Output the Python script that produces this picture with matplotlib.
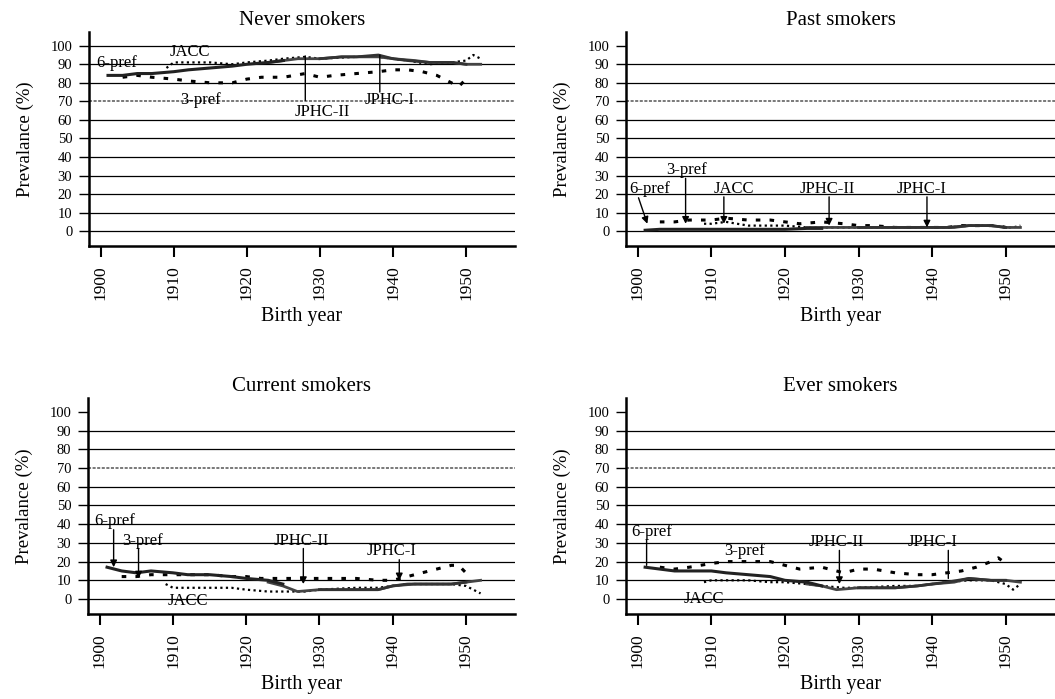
import numpy as np
import matplotlib
matplotlib.use("Agg")
import matplotlib.pyplot as plt

plt.rcParams['font.family'] = ['Liberation Serif', 'DejaVu Serif']

# birth years sampled for each cohort
yrs_6pref = [1901, 1903, 1905, 1907, 1910, 1912, 1915, 1918, 1920, 1923, 1925]
yrs_3pref = [1903, 1905, 1907, 1910, 1912, 1915, 1918, 1920, 1922, 1925, 1928,
             1930, 1932, 1935, 1938, 1940, 1942, 1944, 1946, 1948, 1949, 1950]
yrs_jacc = [1909, 1910, 1912, 1915, 1918, 1920, 1923, 1925, 1928, 1930, 1935,
            1938, 1940, 1942, 1945, 1948, 1950, 1951, 1952]
yrs_jphc2 = [1923, 1925, 1927, 1930, 1933, 1935, 1938, 1940, 1943, 1945, 1948, 1950, 1952]
yrs_jphc1 = [1930, 1933, 1935, 1938, 1940, 1942, 1945, 1948, 1950]

# never smokers
never_6pref = [84, 84, 85, 85, 86, 87, 88, 89, 90, 91, 92]
never_3pref = [83, 84, 83, 82, 81, 80, 80, 82, 83, 83, 85, 83, 84, 85, 86, 87, 87, 86, 84, 80, 78, 82]
never_jacc = [88, 91, 91, 91, 90, 91, 92, 93, 94, 93, 94, 94, 93, 92, 90, 91, 92, 95, 93]
never_jphc2 = [91, 92, 93, 93, 94, 94, 94, 93, 92, 91, 91, 90, 90]
never_jphc1 = [93, 94, 94, 95, 93, 92, 91, 91, 90]

# past smokers
past_6pref = [0.5, 1, 1, 1, 1, 1, 1, 1, 1, 1.5, 1.5]
past_3pref = [5, 5, 6, 6, 7, 6, 6, 5, 4, 5, 4, 3, 3, 2, 2, 2, 2, 3, 3, 3, 3, 2]
past_jacc = [4, 4, 5, 3, 3, 3, 2, 2, 2, 2, 2, 2, 2, 2, 3, 3, 2, 2, 3]
past_jphc2 = [2, 2, 2, 2, 2, 2, 2, 2, 2, 3, 3, 2, 2]
past_jphc1 = [2, 2, 2, 2, 2, 2, 3, 3, 2]

# current smokers
cur_6pref = [17, 15, 14, 15, 14, 13, 13, 12, 11, 10, 8]
cur_3pref = [12, 12, 13, 13, 13, 13, 12, 12, 11, 11, 11, 11, 11, 11, 10, 10, 12, 14, 16, 18, 18, 14]
cur_jacc = [8, 6, 6, 6, 6, 5, 4, 4, 4, 5, 6, 6, 7, 8, 8, 8, 7, 5, 3]
cur_jphc2 = [9, 7, 4, 5, 5, 5, 5, 7, 8, 8, 8, 9, 10]
cur_jphc1 = [5, 5, 5, 5, 7, 8, 8, 8, 9]

# ever smokers
ever_6pref = [17, 16, 15, 15, 15, 14, 13, 12, 10, 9, 7]
ever_3pref = [17, 16, 17, 19, 20, 20, 20, 18, 16, 17, 14, 16, 16, 14, 13, 13, 14, 15, 17, 20, 22, 19]
ever_jacc = [9, 10, 10, 10, 9, 9, 8, 7, 6, 6, 7, 7, 8, 9, 10, 10, 8, 5, 8]
ever_jphc2 = [8, 7, 5, 6, 6, 6, 7, 8, 9, 11, 10, 10, 9]
ever_jphc1 = [6, 6, 6, 7, 8, 9, 11, 10, 10]

titles = ["Never smokers", "Past smokers", "Current smokers", "Ever smokers"]
panels = [
    (never_6pref, never_3pref, never_jacc, never_jphc2, never_jphc1),
    (past_6pref, past_3pref, past_jacc, past_jphc2, past_jphc1),
    (cur_6pref, cur_3pref, cur_jacc, cur_jphc2, cur_jphc1),
    (ever_6pref, ever_3pref, ever_jacc, ever_jphc2, ever_jphc1),
]

# label, text centre, pointer line (from, to, arrow head)
notes = [
    [("JACC", (1912.2, 96.4), None),
     ("6-pref", (1902.2, 90.5), None),
     ("3-pref", (1913.6, 70.5), None),
     ("JPHC-II", (1930.3, 64), ((1928, 70.5), (1928, 94.5), False)),
     ("JPHC-I", (1939.6, 70.5), ((1938.2, 75), (1938.2, 95), False))],
    [("6-pref", (1901.6, 22.7), ((1900.1, 18), (1901.3, 4), True)),
     ("3-pref", (1906.6, 33), ((1906.5, 28.5), (1906.5, 4), True)),
     ("JACC", (1913, 23), ((1911.7, 18.5), (1911.7, 4), True)),
     ("JPHC-II", (1925.8, 23), ((1926, 18.5), (1926, 3), True)),
     ("JPHC-I", (1938.6, 23), ((1939.3, 18.5), (1939.3, 2), True))],
    [("6-pref", (1902, 41.5), ((1901.9, 37), (1901.9, 17), True)),
     ("3-pref", (1905.9, 31), ((1905.3, 27), (1905.3, 11), True)),
     ("JACC", (1912, -1), None),
     ("JPHC-II", (1927.5, 31), ((1927.8, 27), (1927.8, 8), True)),
     ("JPHC-I", (1939.8, 25.5), ((1940.9, 21), (1940.9, 10), True))],
    [("6-pref", (1901.9, 35.7), ((1901.2, 31.5), (1901.2, 18), False)),
     ("3-pref", (1914.5, 25.5), None),
     ("JACC", (1909, 0), None),
     ("JPHC-II", (1927, 30.3), ((1927.4, 26), (1927.4, 8), True)),
     ("JPHC-I", (1940, 30.3), ((1942.2, 26), (1942.2, 11), False))],
]

fig = plt.figure(figsize=(10.55, 6.99), dpi=100)
boxes = [(89, 32, 515, 246), (626, 32, 1055, 246),
         (88, 398, 515, 614), (626, 398, 1055, 614)]

for i, (x0, y0, x1, y1) in enumerate(boxes):
    ax = fig.add_axes([x0 / 1055, 1 - y1 / 699, (x1 - x0) / 1055, (y1 - y0) / 699])
    ax.set_xlim(1898.4, 1956.7)
    ax.set_ylim(-8, 107.4)
    grid_top = 100 if i == 0 else 90
    for g in range(0, grid_top + 1, 10):
        if g == 70:
            ax.axhline(g, color='#555555', lw=1.1, ls=(0, (2, 1)), zorder=1)
        else:
            ax.axhline(g, color='black', lw=0.9, zorder=1)

    s6, s3, sj, s2, s1 = panels[i]
    ax.plot(yrs_jacc, sj, color='black', lw=1.6, ls=(0, (1, 1.5)), zorder=3)
    ax.plot(yrs_3pref, s3, color='black', lw=2.2, ls=(0, (1.5, 3)), zorder=3)
    ax.plot(yrs_jphc2, s2, color='#444444', lw=2.0, zorder=3)
    ax.plot(yrs_jphc1, s1, color='#333333', lw=2.0, zorder=3)
    ax.plot(yrs_6pref, s6, color='#222222', lw=2.2, zorder=3)

    for lab, tp, seg in notes[i]:
        ax.text(tp[0], tp[1], lab, ha='center', va='center', fontsize=12, zorder=5)
        if seg is not None:
            start, end, head = seg
            ax.annotate("", xy=end, xytext=start,
                        arrowprops=dict(arrowstyle='-|>' if head else '-', color='black', lw=1,
                                        mutation_scale=10, shrinkA=0, shrinkB=0), zorder=4)

    ax.set_title(titles[i], fontsize=15, pad=5)
    ax.set_xticks(range(1900, 1951, 10))
    ax.set_xticklabels([str(y) for y in range(1900, 1951, 10)], rotation=90, fontsize=12.5)
    ax.set_yticks(range(0, 101, 10))
    ax.set_yticklabels([str(v) for v in range(0, 101, 10)], fontsize=10.5)
    ax.tick_params(axis='x', direction='out', length=8, width=1.5, pad=6)
    ax.tick_params(axis='y', direction='out', length=7, width=1, pad=5)
    ax.set_xlabel("Birth year", fontsize=14.5, labelpad=5)
    ax.set_ylabel("Prevalance (%)", fontsize=13.5, labelpad=12)
    ax.spines['top'].set_visible(False)
    ax.spines['right'].set_visible(False)
    ax.spines['left'].set_linewidth(1.8)
    ax.spines['bottom'].set_linewidth(1.8)

fig.savefig("out.png", dpi=100)
